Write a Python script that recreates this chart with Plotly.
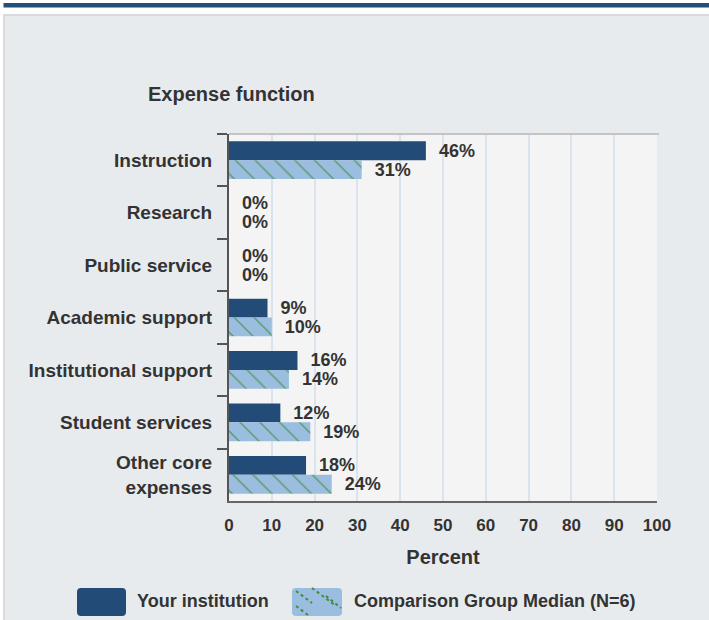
import plotly.graph_objects as go

categories = ["Instruction", "Research", "Public service", "Academic support",
              "Institutional support", "Student services", "Other core<br>expenses"]
your_institution = [46, 0, 0, 9, 16, 12, 18]
comparison_median = [31, 0, 0, 10, 14, 19, 24]
x_ticks = [0, 10, 20, 30, 40, 50, 60, 70, 80, 90, 100]
series_names = ["Your institution", "Comparison Group Median (N=6)"]

W, H = 709, 620
L, R, T, B = 229, 52, 134, 119
PW, PH = W - L - R, H - T - B


def px(x):
    return (x - L) / PW


def py(y):
    return (H - B - y) / PH


FONT = "Liberation Sans, Arial, sans-serif"
TXT = "#333333"
DARK = "#234b78"
LIGHT = "#9bbde0"
GREEN = "#3f8f3a"

fig = go.Figure()
fig.add_trace(go.Bar(
    y=categories, x=your_institution, orientation="h", name=series_names[0],
    marker=dict(color=DARK, line=dict(width=0)),
    texttemplate="\u00a0\u00a0%{x}%", textposition="outside", cliponaxis=False,
    constraintext="none",
    textfont=dict(family=FONT, size=18, color=TXT, weight="bold"),
    showlegend=False,
))
fig.add_trace(go.Bar(
    y=categories, x=comparison_median, orientation="h", name=series_names[1],
    marker=dict(color=LIGHT, line=dict(width=0),
                pattern=dict(shape="\\", fgcolor=GREEN, size=14, solidity=0.1, fgopacity=0.75)),
    texttemplate="\u00a0\u00a0%{x}%", textposition="outside", cliponaxis=False,
    constraintext="none",
    textfont=dict(family=FONT, size=18, color=TXT, weight="bold"),
    showlegend=False,
))

shapes = [
    # white strip at top and left of the panel
    dict(type="rect", xref="paper", yref="paper", x0=px(-5), x1=px(W + 5), y0=py(14.5), y1=py(-5),
         fillcolor="white", line=dict(width=0), layer="above"),
    dict(type="rect", xref="paper", yref="paper", x0=px(-5), x1=px(3.5), y0=py(H + 5), y1=py(-5),
         fillcolor="white", line=dict(width=0), layer="above"),
    # blue header bar
    dict(type="rect", xref="paper", yref="paper", x0=px(3.5), x1=px(W + 5), y0=py(7.5), y1=py(3),
         fillcolor="#244f7b", line=dict(width=0), layer="above"),
    # panel border
    dict(type="rect", xref="paper", yref="paper", x0=px(4), x1=px(W + 10), y0=py(H + 10), y1=py(15),
         fillcolor="rgba(0,0,0,0)", line=dict(color="#cfd3d7", width=1.5), layer="above"),
    # plot top border
    dict(type="line", xref="paper", yref="paper", x0=0, x1=px(659), y0=1, y1=1,
         line=dict(color="#c4c4c4", width=2), layer="above"),
    # legend swatches
    dict(type="path", xref="paper", yref="paper",
         path=f"M {px(81)},{py(588)} L {px(122)},{py(588)} Q {px(126)},{py(588)} {px(126)},{py(592)} "
              f"L {px(126)},{py(612)} Q {px(126)},{py(616)} {px(122)},{py(616)} L {px(81)},{py(616)} "
              f"Q {px(77)},{py(616)} {px(77)},{py(612)} L {px(77)},{py(592)} Q {px(77)},{py(588)} {px(81)},{py(588)} Z",
         fillcolor=DARK, line=dict(width=0), layer="above"),
    dict(type="path", xref="paper", yref="paper",
         path=f"M {px(296)},{py(588)} L {px(338)},{py(588)} Q {px(342)},{py(588)} {px(342)},{py(592)} "
              f"L {px(342)},{py(612)} Q {px(342)},{py(616)} {px(338)},{py(616)} L {px(296)},{py(616)} "
              f"Q {px(292)},{py(616)} {px(292)},{py(612)} L {px(292)},{py(592)} Q {px(292)},{py(588)} {px(296)},{py(588)} Z",
         fillcolor=LIGHT, line=dict(width=0), layer="above"),
]
for (a, b, c, d) in [(296, 591, 312, 603), (312, 588, 336, 606), (296, 606, 308, 615), (326, 596, 341, 608)]:
    shapes.append(dict(type="line", xref="paper", yref="paper", x0=px(a), y0=py(b), x1=px(c), y1=py(d),
                       line=dict(color=GREEN, width=2, dash="dot"), layer="above"))

annotations = [
    dict(text="Expense function", xref="paper", yref="paper", x=px(146), y=py(94),
         xanchor="left", yanchor="middle", showarrow=False,
         font=dict(family=FONT, size=20, color=TXT, weight="bold")),
    dict(text=series_names[0], xref="paper", yref="paper", x=px(135), y=py(601),
         xanchor="left", yanchor="middle", showarrow=False,
         font=dict(family=FONT, size=18, color=TXT, weight="bold")),
    dict(text=series_names[1], xref="paper", yref="paper", x=px(352), y=py(601),
         xanchor="left", yanchor="middle", showarrow=False,
         font=dict(family=FONT, size=18, color=TXT, weight="bold")),
]

fig.update_layout(
    width=W, height=H,
    margin=dict(l=L, r=R, t=T, b=B, pad=0),
    paper_bgcolor="#e8ebee",
    plot_bgcolor="#f4f4f4",
    barmode="group", bargap=0.28, bargroupgap=0,
    showlegend=False,
    shapes=shapes,
    annotations=annotations,
    xaxis=dict(
        range=[0, 100], tickvals=x_ticks, showgrid=True, gridcolor="#dbe3ee", gridwidth=1.5,
        zeroline=False, showline=True, linecolor="#666666", linewidth=2,
        ticks="", ticklabelstandoff=8,
        tickfont=dict(family=FONT, size=17, color=TXT, weight="bold"),
        title=dict(text="Percent", standoff=16,
                   font=dict(family=FONT, size=20, color=TXT, weight="bold")),
        automargin=False,
    ),
    yaxis=dict(
        autorange="reversed", showgrid=False, zeroline=False,
        showline=True, linecolor="#555555", linewidth=2,
        ticks="outside", tickson="boundaries", ticklen=10, tickwidth=2, tickcolor="#555555",
        ticklabelstandoff=11,
        tickfont=dict(family=FONT, size=19, color=TXT, weight="bold"),
        automargin=False,
    ),
)

fig.write_html("out.html", config={"displayModeBar": False},
               post_script="document.body.style.margin='0';document.body.style.padding='0';")
